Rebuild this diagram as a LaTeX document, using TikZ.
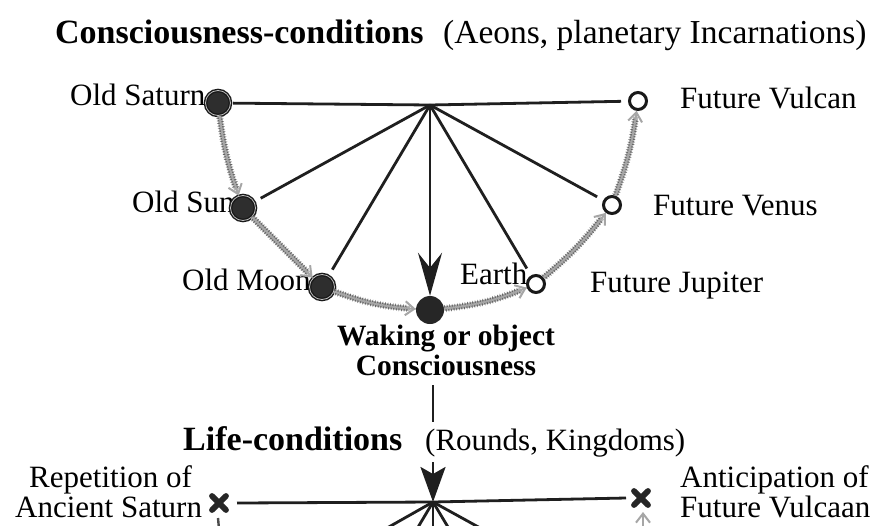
\documentclass[tikz,border=0pt]{standalone}
\usepackage{fontspec}
\setmainfont{Liberation Serif}
\usetikzlibrary{arrows.meta,decorations.pathmorphing,calc}
\begin{document}
\begin{tikzpicture}[x=1pt,y=-1pt,
  txt/.style={inner sep=0pt, font=\fontsize{31}{34}\selectfont},
  hbold/.style={inner sep=0pt, font=\fontsize{34}{38}\selectfont\bfseries},
  wbold/.style={inner sep=0pt, font=\fontsize{29.5}{32}\selectfont\bfseries},
  ray/.style={draw=black!88, line width=2.8pt},
  planet/.style={circle, fill=black!82, draw=black!90, double=white!75!black, double distance=0.8pt, line width=1.4pt, minimum size=25pt, inner sep=0pt},
  core/.style={circle, fill=black!85, minimum size=28pt, inner sep=0pt},
  future/.style={circle, draw=black!90, fill=white, line width=3pt, minimum size=17pt, inner sep=0pt},
  wavy/.style={draw=none,
    postaction={draw=gray!55, line width=5pt, shorten >=6pt},
    postaction={draw=black!60, line width=0.9pt, decorate, decoration={zigzag, amplitude=2.2pt, segment length=2.6pt, post length=7pt}},
    postaction={draw=gray!70, line width=2pt, -{Straight Barb[length=9pt,width=14pt]}}},
  xmark/.style={line width=5.8pt, line cap=round, draw=black!85}
]
\useasboundingbox (0,0) rectangle (877,525);
\clip (0,0) rectangle (877,525);
\fill[white] (0,0) rectangle (877,525);

% ---- title
\node[hbold, anchor=base west] (t1) at (55,43) {Consciousness-conditions};
\node[txt, font=\fontsize{33.5}{36}\selectfont, anchor=base west] (t2) at (443,43) {(Aeons, planetary Incarnations)};

% ---- labels (drawn before dots so dots overlap)
\node[txt, anchor=base west] (lsat) at (70,105) {Old Saturn};
\node[txt, anchor=base west] (lsun) at (132,212) {Old Sun};
\node[txt, anchor=base west] (lmoon) at (182,290) {Old Moon};
\node[txt, anchor=base west] (learth) at (460,284) {Earth};
\node[txt, anchor=base west] (lvul) at (680,108) {Future Vulcan};
\node[txt, anchor=base west] (lven) at (653,215) {Future Venus};
\node[txt, anchor=base west] (ljup) at (590,292) {Future Jupiter};

% ---- hub and planets
\coordinate (hub) at (430,105);
\node[planet] (sat) at (218,103) {};
\node[planet] (sun) at (243,208) {};
\node[planet] (moon) at (322,287) {};
\node[core] (wake) at (430,310) {};
\node[future] (earth) at (536,284) {};
\node[future] (ven) at (612,205) {};
\node[future] (vul) at (638,101) {};

% ---- rays
\draw[ray, shorten >=2pt] (hub) -- (sat);
\draw[ray, shorten >=7pt] (hub) -- (vul);
\draw[ray, shorten >=7pt] (hub) -- (sun);
\draw[ray, shorten >=7pt] (hub) -- (moon);
\draw[ray, shorten >=8pt] (hub) -- (earth);
\draw[ray, shorten >=7pt] (hub) -- (ven);
\draw[ray, -{Stealth[length=43pt,width=24pt,inset=15pt]}] (hub) -- (wake.north);

% ---- evolution arrows
\path[wavy] (sat) to[bend right=6] (sun);
\path[wavy] (sun) to (moon);
\path[wavy] (moon) to[bend right=8] (wake);
\path[wavy] (wake) to[bend right=8] (earth);
\path[wavy] (earth) to[bend right=6] (ven);
\path[wavy] (ven) to[bend right=6] (vul);

% ---- waking text
\node[wbold, anchor=base] (wak1) at (446,345) {Waking or object};
\node[wbold, anchor=base] (wak2) at (446,375) {Consciousness};
\coordinate (vtop) at (433,385);
\coordinate (vbot) at (433,422);
\draw[ray] (vtop) -- (vbot);

% ---- life-conditions heading
\node[hbold, anchor=base west] (l1) at (183,450) {Life-conditions};
\node[txt, anchor=base west] (l2) at (425,450) {(Rounds, Kingdoms)};

% ---- lower hub
\coordinate (hub2) at (433,502);
\coordinate (atop) at (433,462);
\draw[ray, -{Stealth[length=35pt,width=25pt,inset=7pt]}] (atop) -- (hub2);
\coordinate (xl) at (219,503);
\coordinate (xr) at (641,498);
\draw[ray] (hub2) -- ($(xl)+(18,0)$);
\draw[ray] (hub2) -- ($(xr)+(-15,0)$);
\draw[xmark] ($(xl)+(-7,-7)$) -- ($(xl)+(7,7)$);
\draw[xmark] ($(xl)+(-7,7)$) -- ($(xl)+(7,-7)$);
\draw[xmark] ($(xr)+(-7,-7)$) -- ($(xr)+(7,7)$);
\draw[xmark] ($(xr)+(-7,7)$) -- ($(xr)+(7,-7)$);
\coordinate (f1) at ($(hub2)+(-168,95)$);
\coordinate (f2) at ($(hub2)+(-97,163)$);
\coordinate (f3) at ($(hub2)+(0,190)$);
\coordinate (f4) at ($(hub2)+(97,162)$);
\coordinate (f5) at ($(hub2)+(167,92)$);
\foreach \f in {f1,f2,f3,f4,f5} \draw[ray] (hub2) -- (\f);
% starts of lower evolution arrows
\coordinate (tl1) at (218,518);
\coordinate (tl2) at (220,540);
\draw[draw=black!70, line width=2.4pt] (tl1) -- (tl2);
\coordinate (tr1) at (643,545);
\coordinate (tr2) at (643,512);
\draw[draw=gray!70, line width=2pt, -{Straight Barb[length=9pt,width=14pt]}] (tr1) -- (tr2);

% ---- lower labels
\node[txt, anchor=base west] (rep1) at (29,487) {Repetition of};
\node[txt, anchor=base west] (rep2) at (15,517) {Ancient Saturn};
\node[txt, anchor=base west] (ant1) at (680,487) {Anticipation of};
\node[txt, anchor=base west] (ant2) at (680,517) {Future Vulcaan};
\end{tikzpicture}
\end{document}
